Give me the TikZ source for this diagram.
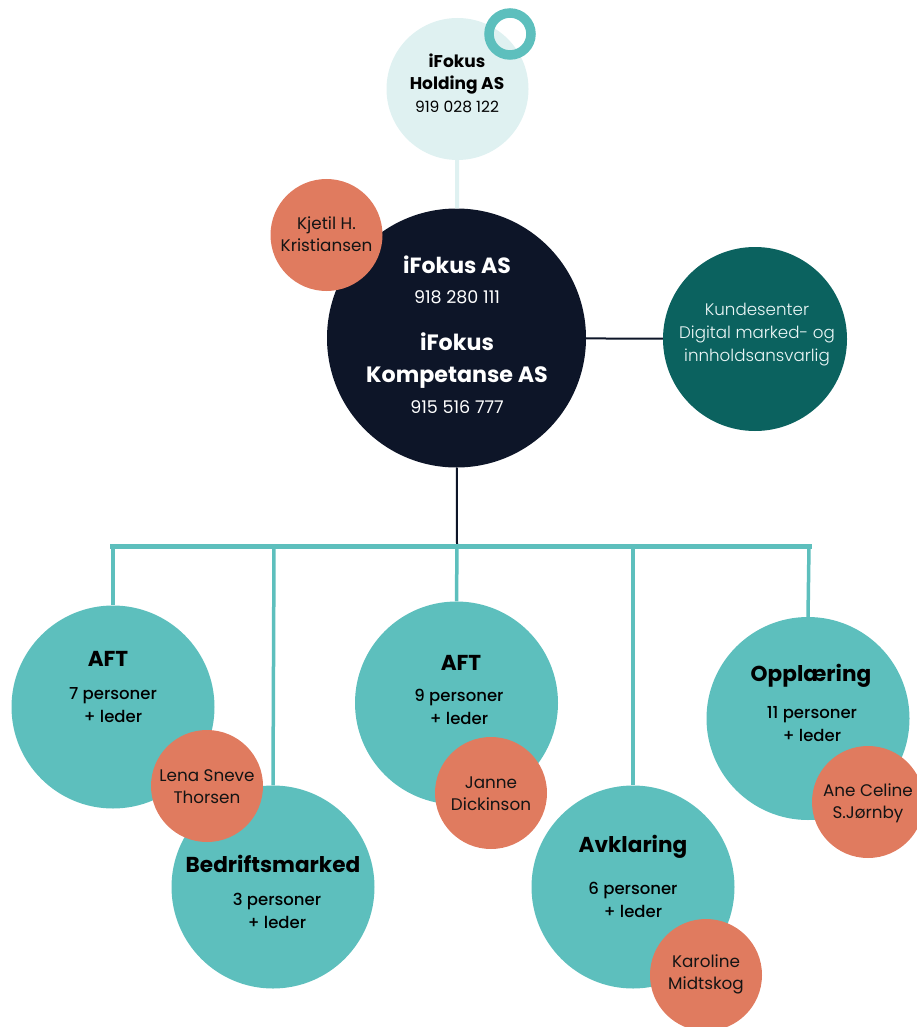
\documentclass[tikz,border=0pt]{standalone}
\usepackage{fontspec}
\setmainfont{Poppins}
\newfontfamily\poplight{Poppins Light}
\newfontfamily\popmed{Poppins Medium}
\definecolor{teal1}{HTML}{5DBFBD}
\definecolor{orng}{HTML}{E07B5F}
\definecolor{navy}{HTML}{0D1528}
\definecolor{dteal}{HTML}{0B625F}
\definecolor{lite}{HTML}{DFF1F1}
\definecolor{ink}{HTML}{141414}
\tikzset{
  circ/.style={circle,inner sep=0pt,minimum size=#1},
  unit/.style={circ=203pt,fill=teal1},
  person/.style={circ=112pt,fill=orng},
  ttl/.style={font=\fontsize{21.6}{24}\selectfont\bfseries,text=black},
  body/.style={font=\fontsize{16.5}{22.5}\selectfont\popmed,text=black,align=center},
  pname/.style={font=\fontsize{16.8}{22}\selectfont,text=ink,align=center},
  tline/.style={draw=teal1,line width=3.5pt},
}
\begin{document}
\begin{tikzpicture}[x=1pt,y=-1pt]
\useasboundingbox (0,0) rectangle (917,1027);
% top
\node[circ=142pt,fill=lite] (hold) at (457.5,89) {};
\draw[teal1,line width=9.5pt] (510,34) circle (21pt);
\node[font=\fontsize{17}{22}\selectfont\bfseries,align=center] (holdt) at (457,74) {iFokus\\Holding AS};
\node[font=\fontsize{15.5}{18}\selectfont] (holdn) at (457,107) {919 028 122};
\node[circ=259pt,fill=navy] (main) at (456.5,338) {};
\draw[lite,line width=4pt] (hold) -- (main);
\node[person] (kjetil) at (326.5,235) {};
\node[pname] (kjetilt) at (326.5,234) {Kjetil H.\\Kristiansen};
\node[font=\fontsize{22}{24}\selectfont\bfseries,text=white] (m1) at (457,265) {iFokus AS};
\node[font=\fontsize{17.5}{18}\selectfont,text=white] (m2) at (457,297) {918 280 111};
\node[font=\fontsize{22.2}{32}\selectfont\bfseries,text=white,align=center] (m3) at (457,361) {iFokus\\Kompetanse AS};
\node[font=\fontsize{17.5}{18}\selectfont,text=white] (m4) at (457,407) {915 516 777};
\node[circ=184pt,fill=dteal] (kunde) at (755,339) {};
\draw[navy,line width=2pt] (main) -- (kunde);
\node[font=\fontsize{16.7}{23}\selectfont\poplight,text=white!88!teal1,align=center] (kundet) at (757,335) {Kundesenter\\Digital marked- og\\innholdsansvarlig};
% bar
\coordinate (bl) at (110,546);
\coordinate (bc) at (457,546);
\coordinate (br) at (812,546);
\coordinate (b1) at (113,546);
\coordinate (b2) at (274,546);
\coordinate (b4) at (633,546);
\coordinate (b5) at (809,546);
\draw[navy,line width=2pt] (main) -- (bc);
% units
\node[unit] (aft1) at (113,707) {};
\node[unit] (bedr) at (273,887) {};
\node[unit] (aft2) at (456.5,703) {};
\node[unit] (avkl) at (633,887) {};
\node[unit] (oppl) at (808,718.5) {};
\draw[teal1,line width=5pt] (bl) -- (br);
\draw[tline] (b1) -- (aft1.north);
\draw[tline] (b2) -- (bedr.north);
\draw[tline] (bc) -- (aft2.north);
\draw[tline] (b4) -- (avkl.north);
\draw[tline] (b5) -- (oppl.north);
% texts
\node[ttl] (aft1t) at (108,659) {AFT};
\node[body] (aft1b) at (113,705) {7 personer\\+ leder};
\node[ttl] (bedrt) at (273,864) {Bedriftsmarked};
\node[body] (bedrb) at (277,911) {3 personer\\+ leder};
\node[ttl] (aft2t) at (461,663) {AFT};
\node[body] (aft2b) at (459,707) {9 personer\\+ leder};
\node[ttl] (avklt) at (633,847) {Avklaring};
\node[body] (avklb) at (633,900) {6 personer\\+ leder};
\node[ttl] (opplt) at (811,676) {Opplæring};
\node[body] (opplb) at (812,724) {11 personer\\+ leder};
% people
\node[person] (lena) at (207,786) {};
\node[pname] (lenat) at (207,787) {Lena Sneve\\Thorsen};
\node[person] (janne) at (491,793) {};
\node[pname] (jannet) at (491,794) {Janne\\Dickinson};
\node[person] (karo) at (706,975) {};
\node[pname] (karot) at (706,974) {Karoline\\Midtskog};
\node[person] (ane) at (868,802) {};
\node[pname] (anet) at (868,803) {Ane Celine\\S.Jørnby};
\end{tikzpicture}
\end{document}
